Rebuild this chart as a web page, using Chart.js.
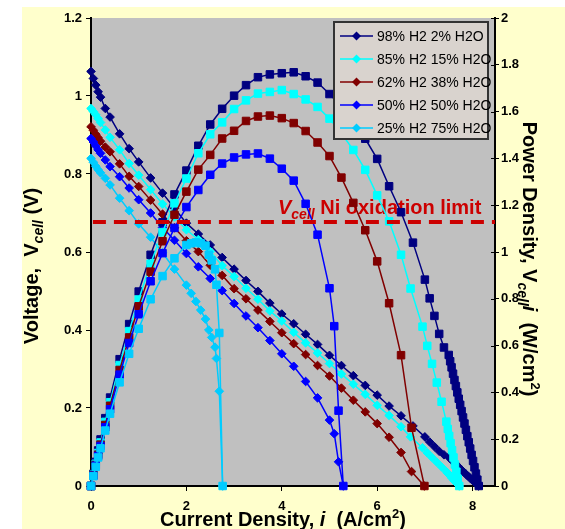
<!DOCTYPE html>
<html>
<head>
<meta charset="utf-8">
<script src="https://cdn.jsdelivr.net/npm/chart.js@4.4.0/dist/chart.umd.min.js"></script>
<style>
  html, body { margin: 0; padding: 0; background: #fff; }
  #wrap { width: 565px; height: 529px; }
</style>
</head>
<body>
<div id="wrap"><canvas id="main" width="565" height="529"></canvas></div>
<script>
// series names + colours (legend order)
const seriesLabels = ['98% H2 2% H2O', '85% H2 15% H2O', '62% H2 38% H2O', '50% H2 50% H2O', '25% H2 75% H2O'];
const seriesColors = ['#000080', '#00FFFF', '#800000', '#0000FF', '#00CCFF'];

// axis ticks
const xTicks = [0, 2, 4, 6, 8];
const vTicks = [0, 0.2, 0.4, 0.6, 0.8, 1, 1.2];
const pTicks = [0, 0.2, 0.4, 0.6, 0.8, 1, 1.2, 1.4, 1.6, 1.8, 2];
const xMax = 8.47;

// Ni oxidation limit (V)
const oxLimit = 0.677;

// 98% H2 2% H2O : current density (A/cm2), voltage (V), power (W/cm2)
const i98 = [0, 0.05, 0.1, 0.15, 0.2, 0.3, 0.4, 0.6, 0.8, 1.0, 1.25, 1.5, 1.75, 2.0, 2.25, 2.5, 2.75, 3.0, 3.25, 3.5, 3.75, 4.0, 4.25, 4.5, 4.75, 5.0, 5.25, 5.5, 5.75, 6.0, 6.25, 6.5, 6.75, 7.0, 7.1, 7.2, 7.3, 7.4,
  7.5, 7.53, 7.56, 7.59, 7.62, 7.65, 7.68, 7.71, 7.74, 7.77, 7.8, 7.83, 7.86, 7.89, 7.92, 7.95, 7.98, 8.01, 8.04, 8.07, 8.1, 8.13];
const v98 = [1.063, 1.045, 1.028, 1.011, 0.997, 0.968, 0.946, 0.903, 0.865, 0.831, 0.79, 0.751, 0.712, 0.674, 0.646, 0.618, 0.586, 0.556, 0.527, 0.499, 0.469, 0.441, 0.416, 0.389, 0.363, 0.335, 0.309, 0.283, 0.258, 0.233, 0.205, 0.18, 0.154, 0.126, 0.113, 0.101, 0.089, 0.08,
  0.0747, 0.0708, 0.0671, 0.0632, 0.0594, 0.0558, 0.0521, 0.0484, 0.0448, 0.0412, 0.0376, 0.0341, 0.0305, 0.027, 0.0236, 0.0201, 0.0167, 0.0134, 0.01, 0.0066, 0.0033, 0];
const p98 = [0, 0.052, 0.103, 0.152, 0.199, 0.29, 0.378, 0.542, 0.692, 0.831, 0.988, 1.127, 1.246, 1.348, 1.454, 1.545, 1.612, 1.668, 1.713, 1.747, 1.759, 1.764, 1.768, 1.751, 1.724, 1.675, 1.622, 1.557, 1.484, 1.398, 1.281, 1.17, 1.04, 0.882, 0.802, 0.727, 0.65, 0.592,
  0.56, 0.533, 0.507, 0.48, 0.453, 0.427, 0.4, 0.373, 0.347, 0.32, 0.293, 0.267, 0.24, 0.213, 0.187, 0.16, 0.133, 0.107, 0.08, 0.053, 0.027, 0];

// 85% H2 15% H2O
const i85 = [0, 0.05, 0.1, 0.15, 0.2, 0.3, 0.4, 0.6, 0.8, 1.0, 1.25, 1.5, 1.75, 2.0, 2.25, 2.5, 2.75, 3.0, 3.25, 3.5, 3.75, 4.0, 4.25, 4.5, 4.75, 5.0, 5.25, 5.5, 5.75, 6.0, 6.25, 6.5, 6.7, 6.95, 7.05, 7.15, 7.25, 7.35,
  7.45, 7.48, 7.51, 7.54, 7.57, 7.6, 7.63, 7.66, 7.69, 7.72];
const v85 = [0.968, 0.96, 0.952, 0.942, 0.932, 0.913, 0.894, 0.862, 0.827, 0.797, 0.76, 0.723, 0.69, 0.657, 0.632, 0.601, 0.565, 0.537, 0.507, 0.479, 0.449, 0.423, 0.394, 0.367, 0.341, 0.314, 0.287, 0.261, 0.235, 0.207, 0.181, 0.152, 0.126, 0.098, 0.085, 0.073, 0.061, 0.049,
  0.0369, 0.0326, 0.0285, 0.0243, 0.0202, 0.0161, 0.0121, 0.008, 0.004, 0];
const p85 = [0, 0.048, 0.095, 0.141, 0.186, 0.274, 0.358, 0.517, 0.662, 0.797, 0.95, 1.085, 1.208, 1.314, 1.422, 1.503, 1.554, 1.611, 1.648, 1.677, 1.684, 1.692, 1.675, 1.652, 1.62, 1.57, 1.507, 1.436, 1.351, 1.242, 1.131, 0.988, 0.844, 0.681, 0.599, 0.522, 0.442, 0.36,
  0.275, 0.244, 0.214, 0.183, 0.153, 0.122, 0.092, 0.061, 0.031, 0];

// 62% H2 38% H2O
const i62 = [0, 0.05, 0.1, 0.15, 0.2, 0.3, 0.4, 0.6, 0.8, 1.0, 1.25, 1.5, 1.75, 2.0, 2.25, 2.5, 2.75, 3.0, 3.25, 3.5, 3.75, 4.0, 4.25, 4.5, 4.75, 5.0, 5.25, 5.5, 5.75, 6.0, 6.25, 6.5, 6.72, 6.99];
const v62 = [0.921, 0.912, 0.902, 0.893, 0.884, 0.869, 0.857, 0.826, 0.794, 0.768, 0.733, 0.697, 0.662, 0.629, 0.601, 0.566, 0.54, 0.506, 0.48, 0.451, 0.422, 0.393, 0.365, 0.337, 0.309, 0.282, 0.251, 0.22, 0.19, 0.16, 0.125, 0.086, 0.037, 0];
const p62 = [0, 0.046, 0.09, 0.134, 0.177, 0.261, 0.343, 0.496, 0.635, 0.768, 0.916, 1.046, 1.159, 1.258, 1.352, 1.415, 1.485, 1.518, 1.56, 1.579, 1.583, 1.572, 1.551, 1.517, 1.468, 1.41, 1.318, 1.21, 1.093, 0.96, 0.781, 0.559, 0.249, 0];

// 50% H2 50% H2O
const i50 = [0, 0.05, 0.1, 0.15, 0.2, 0.3, 0.4, 0.6, 0.8, 1.0, 1.25, 1.5, 1.75, 2.0, 2.25, 2.5, 2.75, 3.0, 3.25, 3.5, 3.75, 4.0, 4.25, 4.5, 4.75, 5.0, 5.1, 5.19, 5.29];
const v50 = [0.891, 0.882, 0.872, 0.862, 0.853, 0.836, 0.819, 0.793, 0.764, 0.734, 0.7, 0.663, 0.63, 0.596, 0.562, 0.532, 0.501, 0.468, 0.436, 0.406, 0.373, 0.339, 0.307, 0.268, 0.226, 0.169, 0.134, 0.062, 0];
const p50 = [0, 0.044, 0.087, 0.129, 0.171, 0.251, 0.328, 0.476, 0.611, 0.734, 0.875, 0.995, 1.103, 1.192, 1.265, 1.33, 1.378, 1.404, 1.417, 1.421, 1.399, 1.356, 1.305, 1.206, 1.074, 0.845, 0.683, 0.322, 0];

// 25% H2 75% H2O
const i25 = [0, 0.05, 0.1, 0.15, 0.2, 0.3, 0.4, 0.6, 0.8, 1.0, 1.25, 1.5, 1.75, 2.0, 2.1, 2.2, 2.3, 2.4, 2.47, 2.53, 2.6, 2.63, 2.69, 2.76];
const v25 = [0.84, 0.83, 0.82, 0.811, 0.803, 0.789, 0.772, 0.738, 0.706, 0.672, 0.638, 0.598, 0.556, 0.515, 0.494, 0.473, 0.451, 0.428, 0.4, 0.381, 0.356, 0.327, 0.243, 0];
const p25 = [0, 0.042, 0.082, 0.122, 0.161, 0.237, 0.309, 0.443, 0.565, 0.672, 0.798, 0.897, 0.973, 1.03, 1.037, 1.041, 1.037, 1.027, 0.988, 0.964, 0.926, 0.86, 0.654, 0];

const currents = [i98, i85, i62, i50, i25];
const voltages = [v98, v85, v62, v50, v25];
const powers = [p98, p85, p62, p50, p25];

const FONT = 'Arial, "Liberation Sans", sans-serif';
const RED = '#CC0000';

function pts(xs, ys) {
  return xs.map((x, k) => ({ x: x, y: ys[k] }));
}

const datasets = [];
voltages.forEach((v, s) => {
  datasets.push({
    label: seriesLabels[s],
    inLegend: true,
    data: pts(currents[s], v),
    yAxisID: 'y',
    borderColor: seriesColors[s],
    backgroundColor: seriesColors[s],
    borderWidth: 1.5,
    pointStyle: 'rectRot',
    pointRadius: 4.3,
    pointBorderWidth: 1,
    clip: false,
    order: 20 - s
  });
});
powers.forEach((p, s) => {
  datasets.push({
    label: seriesLabels[s] + ' power',
    data: pts(currents[s], p),
    yAxisID: 'y2',
    borderColor: seriesColors[s],
    backgroundColor: seriesColors[s],
    borderWidth: 1.5,
    pointStyle: 'rect',
    pointRadius: 5.3,
    pointBorderWidth: 1,
    clip: false,
    order: 15 - s
  });
});
datasets.push({
  label: 'limit',
  data: [{ x: 0.04, y: oxLimit }, { x: xMax, y: oxLimit }],
  yAxisID: 'y',
  borderColor: RED,
  borderWidth: 4,
  borderDash: [13, 8],
  pointRadius: 0,
  order: 0
});

function drawRuns(ctx, runs, x, y, center) {
  let w = 0;
  runs.forEach(r => { ctx.font = r.font; w += ctx.measureText(r.text).width; });
  let cx = center ? x - w / 2 : x;
  runs.forEach(r => {
    ctx.font = r.font;
    ctx.fillText(r.text, cx, y + (r.dy || 0));
    cx += ctx.measureText(r.text).width;
  });
}

const B20 = 'bold 20px ' + FONT;
const I20 = 'italic bold 20px ' + FONT;
const I14 = 'italic bold 14px ' + FONT;
const B13 = 'bold 13px ' + FONT;

const decor = {
  id: 'decor',
  beforeDraw(chart) {
    const { ctx, chartArea: a } = chart;
    ctx.save();
    ctx.fillStyle = '#ffffff';
    ctx.fillRect(0, 0, chart.width, chart.height);
    ctx.fillStyle = '#FFFFCC';
    ctx.fillRect(22, 7, chart.width - 22, chart.height - 7);
    ctx.fillStyle = '#C0C0C0';
    ctx.fillRect(a.left, a.top, a.right - a.left, a.bottom - a.top);
    ctx.restore();
  },
  beforeDatasetsDraw(chart) {
    const ctx = chart.ctx;
    const x = chart.scales.x.getPixelForValue(3.92);
    const y = chart.scales.y.getPixelForValue(oxLimit) - 8;
    ctx.save();
    ctx.fillStyle = RED;
    ctx.textAlign = 'left';
    ctx.textBaseline = 'alphabetic';
    drawRuns(ctx, [
      { text: 'V', font: I20 },
      { text: 'cell', font: I14, dy: 5 },
      { text: ' Ni oxidation limit', font: B20 }
    ], x, y, false);
    ctx.restore();
  },
  afterDatasetsDraw(chart) {
    const ctx = chart.ctx;
    ctx.save();
    // legend box
    ctx.fillStyle = '#D9D3CE';
    ctx.fillRect(334, 22, 154, 117);
    ctx.strokeStyle = '#333333';
    ctx.lineWidth = 2;
    ctx.strokeRect(334, 22, 154, 117);
    ctx.font = '14px ' + FONT;
    ctx.textBaseline = 'middle';
    ctx.textAlign = 'left';
    chart.data.datasets.filter(d => d.inLegend).forEach((d, k) => {
      const y = 36 + k * 23;
      ctx.strokeStyle = d.borderColor;
      ctx.lineWidth = 1.5;
      ctx.beginPath();
      ctx.moveTo(340, y);
      ctx.lineTo(373, y);
      ctx.stroke();
      ctx.fillStyle = d.borderColor;
      ctx.beginPath();
      ctx.moveTo(356.5, y - 4.5);
      ctx.lineTo(361, y);
      ctx.lineTo(356.5, y + 4.5);
      ctx.lineTo(352, y);
      ctx.closePath();
      ctx.fill();
      ctx.fillStyle = '#000';
      ctx.fillText(d.label, 377, y + 1);
    });
    ctx.restore();
  },
  afterDraw(chart) {
    const ctx = chart.ctx;
    const a = chart.chartArea;
    ctx.save();
    // inner half of the right-axis tick marks
    ctx.strokeStyle = '#000';
    ctx.lineWidth = 1;
    chart.scales.y2.ticks.forEach(t => {
      const py = Math.round(chart.scales.y2.getPixelForValue(t.value)) + 0.5;
      ctx.beginPath();
      ctx.moveTo(a.right - 4, py);
      ctx.lineTo(a.right, py);
      ctx.stroke();
    });
    ctx.fillStyle = '#000';
    ctx.textAlign = 'left';
    ctx.textBaseline = 'alphabetic';
    // x title
    drawRuns(ctx, [
      { text: 'Current Density, ', font: B20 },
      { text: 'i', font: I20 },
      { text: '  (A/cm', font: B20 },
      { text: '2', font: B13, dy: -8 },
      { text: ')', font: B20 }
    ], 283, 526, true);
    // left title
    ctx.save();
    ctx.translate(38, 266);
    ctx.rotate(-Math.PI / 2);
    drawRuns(ctx, [
      { text: 'Voltage,  V', font: B20 },
      { text: 'cell', font: I14, dy: 5 },
      { text: ' (V)', font: B20 }
    ], 0, 0, true);
    ctx.restore();
    // right title
    ctx.save();
    ctx.translate(523, 259);
    ctx.rotate(Math.PI / 2);
    drawRuns(ctx, [
      { text: 'Power Density, V', font: B20 },
      { text: 'cell', font: I14, dy: 5 },
      { text: 'i', font: I20 },
      { text: '  (W/cm', font: B20 },
      { text: '2', font: B13, dy: -8 },
      { text: ')', font: B20 }
    ], 0, 0, true);
    ctx.restore();
    ctx.restore();
  }
};

const tickFont = { family: FONT, size: 13, weight: 'bold' };

new Chart(document.getElementById('main'), {
  type: 'line',
  data: { datasets: datasets },
  plugins: [decor],
  options: {
    responsive: false,
    animation: false,
    devicePixelRatio: 1,
    layout: { padding: { top: 18, left: 0, right: 0, bottom: 0 } },
    plugins: { legend: { display: false }, tooltip: { enabled: false } },
    elements: { line: { tension: 0 } },
    scales: {
      x: {
        type: 'linear',
        position: 'bottom',
        min: 0,
        max: xMax,
        afterBuildTicks: s => { s.ticks = xTicks.map(v => ({ value: v })); },
        afterFit: s => { s.height = 43; },
        ticks: { font: tickFont, color: '#000', padding: 8, maxRotation: 0, autoSkip: false, callback: v => String(v) },
        grid: { drawOnChartArea: false, drawTicks: true, tickLength: 5, color: '#000' },
        border: { display: true, color: '#000', width: 2 }
      },
      y: {
        position: 'left',
        min: 0,
        max: 1.2,
        afterBuildTicks: s => { s.ticks = vTicks.map(v => ({ value: v })); },
        afterFit: s => { s.width = 91; },
        ticks: { font: tickFont, color: '#000', padding: 4, callback: v => String(v) },
        grid: { drawOnChartArea: false, drawTicks: true, tickLength: 5, color: '#000' },
        border: { display: true, color: '#000', width: 2 }
      },
      y2: {
        position: 'right',
        min: 0,
        max: 2,
        afterBuildTicks: s => { s.ticks = pTicks.map(v => ({ value: v })); },
        afterFit: s => { s.width = 70; },
        ticks: { font: tickFont, color: '#000', padding: 2, callback: v => String(v) },
        grid: { drawOnChartArea: false, drawTicks: true, tickLength: 4, color: '#000' },
        border: { display: true, color: '#000', width: 2 }
      }
    }
  }
});
</script>
</body>
</html>
